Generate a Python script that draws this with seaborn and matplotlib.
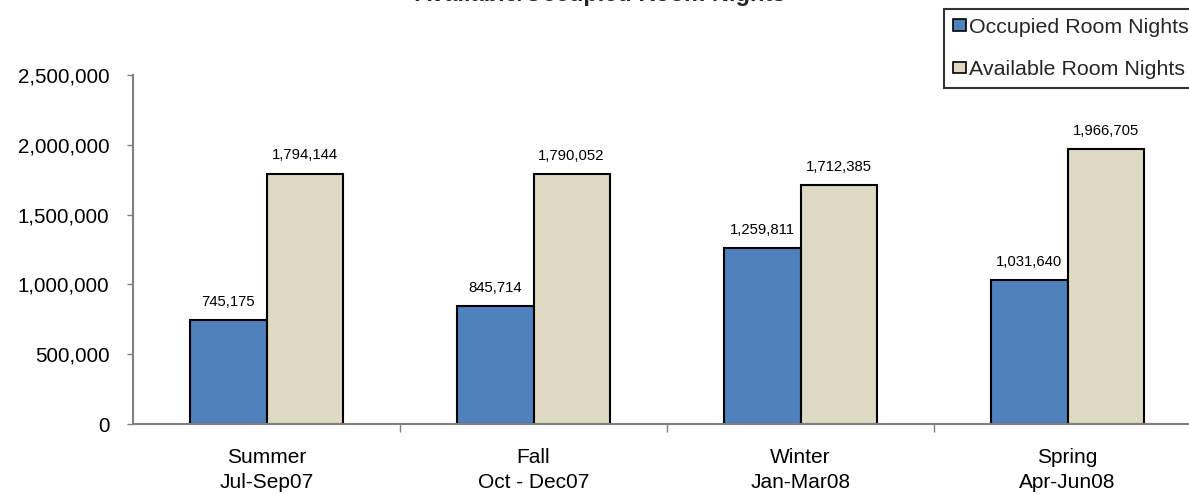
import matplotlib
matplotlib.use("Agg")
import matplotlib.pyplot as plt
import matplotlib.ticker as mticker
import seaborn as sns
import pandas as pd

seasons = ["Summer\nJul-Sep07", "Fall\nOct - Dec07", "Winter\nJan-Mar08", "Spring\nApr-Jun08"]
series_names = ["Occupied Room Nights", "Available Room Nights"]
occupied = [745175, 845714, 1259811, 1031640]
available = [1794144, 1790052, 1712385, 1966705]
y_ticks = [0, 500000, 1000000, 1500000, 2000000, 2500000]
title = "Available/Occupied Room Nights"

df = pd.DataFrame({
    "season": seasons * 2,
    "series": [series_names[0]] * 4 + [series_names[1]] * 4,
    "value": occupied + available,
})

sns.set_theme(style="white")
plt.rcParams["font.family"] = ["Liberation Sans", "DejaVu Sans"]

fig = plt.figure(figsize=(11.89, 4.94), dpi=100)
ax = fig.add_axes([133 / 1189, 1 - 424 / 494, (1201 - 133) / 1189, (424 - 75) / 494])

palette = {series_names[0]: "#4F81BD", series_names[1]: "#DDD9C3"}
sns.barplot(data=df, x="season", y="value", hue="series", order=seasons,
            hue_order=series_names, palette=palette, width=0.57, gap=0,
            edgecolor="black", linewidth=1.5, saturation=1, ax=ax, legend=False)

# value labels above each bar
for container in ax.containers:
    ax.bar_label(container, labels=[f"{int(v):,}" for v in container.datavalues],
                 padding=8, fontsize=10.7, color="black")

ax.set_xlim(-0.5, 3.5)
ax.set_ylim(0, 2500000)
ax.set_yticks(y_ticks)
ax.yaxis.set_major_formatter(mticker.FuncFormatter(lambda v, p: f"{int(v):,}"))
ax.set_xlabel("")
ax.set_ylabel("")

for s in ["top", "right"]:
    ax.spines[s].set_visible(False)
for s in ["left", "bottom"]:
    ax.spines[s].set_color("#808080")
    ax.spines[s].set_linewidth(1.5)

ax.tick_params(axis="y", which="major", direction="out", length=4, width=1,
               color="#808080", left=True, labelsize=14.8, pad=13, labelcolor="black")
ax.tick_params(axis="x", which="major", length=0, pad=17, labelsize=15, labelcolor="black")
ax.set_xticks([0.5, 1.5, 2.5], minor=True)
ax.tick_params(axis="x", which="minor", direction="out", length=6, width=1,
               color="#808080", bottom=True)
for lab in ax.get_xticklabels():
    lab.set_linespacing(1.4)

fig.text(0.505, 1 - 1.5 / 494, title, ha="center", va="baseline",
         fontsize=17, fontweight="bold")

handles = [plt.Rectangle((0, 0), 1, 1, facecolor=palette[n], edgecolor="black", linewidth=1.2)
           for n in series_names]
leg = fig.legend(handles, series_names, loc="upper left",
                 bbox_to_anchor=(944 / 1189, 1 - 9 / 494), frameon=True,
                 fontsize=15.4, handlelength=0.65, handleheight=0.45, handletextpad=0.1,
                 labelspacing=1.1, borderpad=0.4, borderaxespad=0, fancybox=False)
leg.get_frame().set_edgecolor("black")
leg.get_frame().set_linewidth(1.5)

fig.savefig("out.png", dpi=100)
